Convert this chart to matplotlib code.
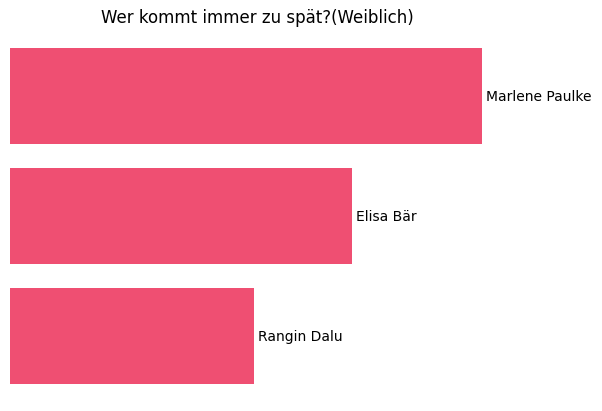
import matplotlib.pyplot as plt

## Data
names = ["Marlene Paulke", "Elisa Bär", "Rangin Dalu"]
counts = [29, 21, 15]

## Plot
fig = plt.figure(figsize=(6.02, 4.11), dpi=100)
ax = fig.add_axes([10 / 602, 1 - 400.8 / 411, 495.6 / 602, 369.6 / 411])

ypos = list(range(len(names)))
bars = ax.barh(ypos, counts, height=0.8, color="#EF4F72")
ax.invert_yaxis()
ax.margins(x=0.05, y=0.05)

for b, name in zip(bars, names):
    ax.text(b.get_width() + 0.25, b.get_y() + b.get_height() / 2 + 0.012, name,
            va="center", ha="left", fontsize=10)

ax.set_title("Wer kommt immer zu spät?(Weiblich)", fontsize=12, pad=6)
ax.axis("off")

plt.savefig("out.png", dpi=100)
